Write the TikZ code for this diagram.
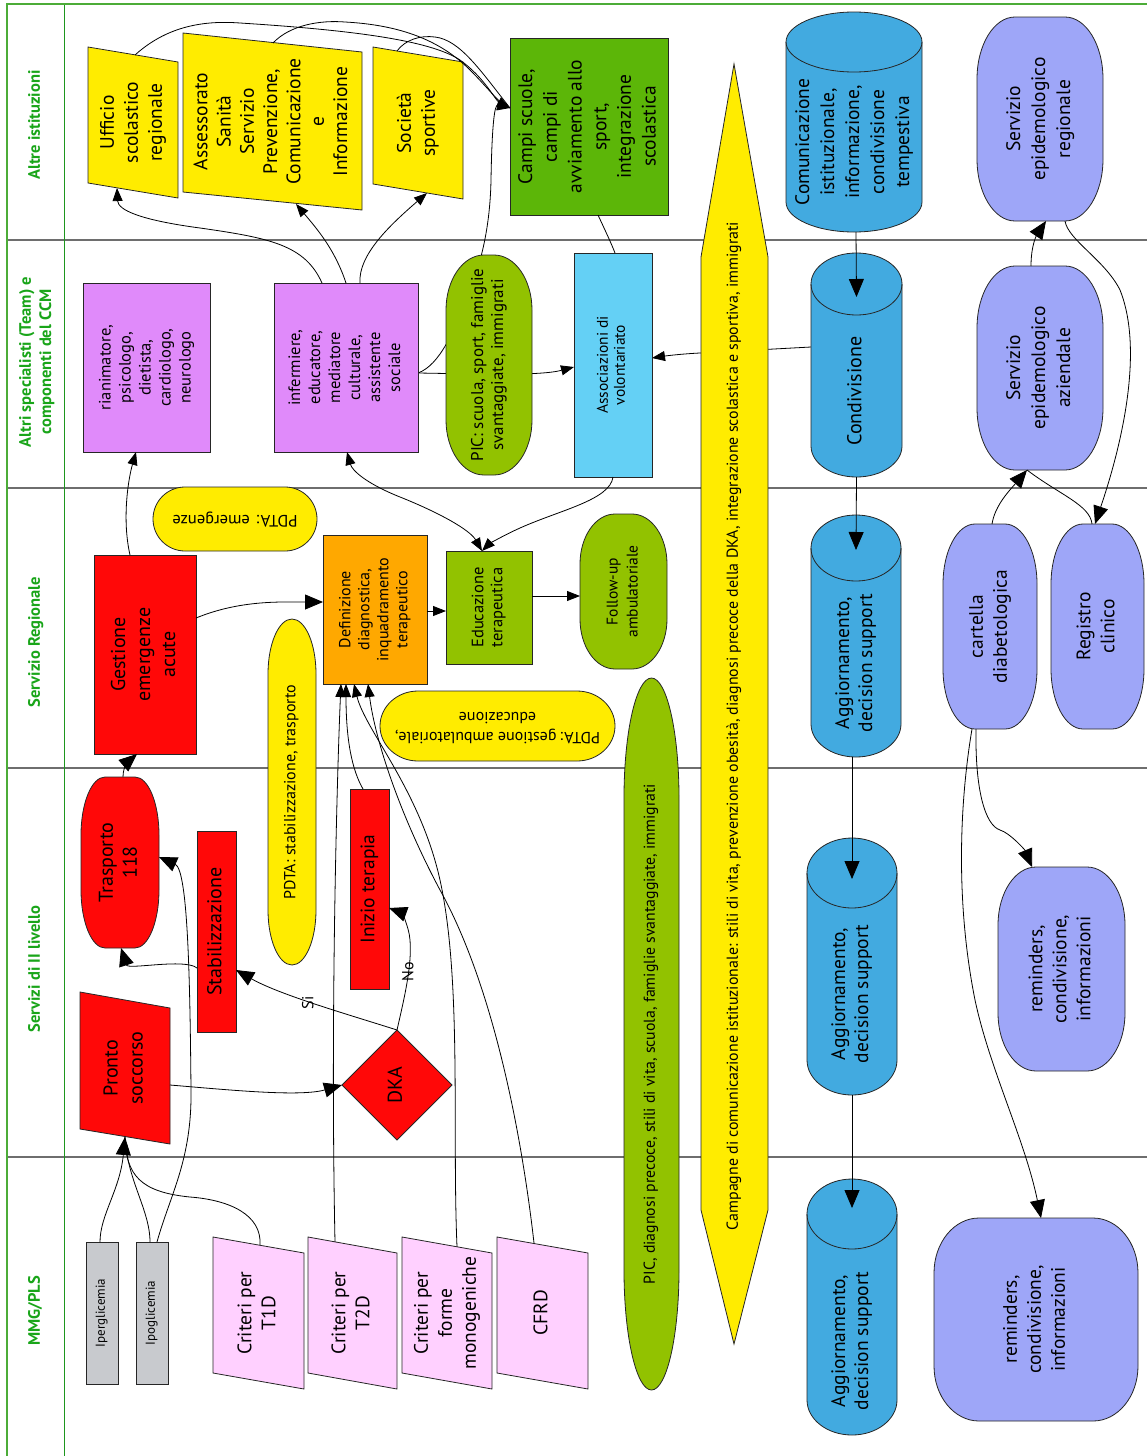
\documentclass[tikz,border=0pt]{standalone}
\usepackage{fontspec}
\setmainfont{PT Sans}
\usepackage{graphicx}
\usetikzlibrary{arrows.meta,calc}
\pgfdeclarelayer{bg}\pgfdeclarelayer{shp}\pgfsetlayers{bg,shp,main}
\definecolor{cyel}{RGB}{255,236,0}
\definecolor{cred}{RGB}{255,8,8}
\definecolor{cora}{RGB}{255,168,0}
\definecolor{cpur}{RGB}{224,138,250}
\definecolor{coli}{RGB}{146,194,0}
\definecolor{cdgr}{RGB}{92,182,8}
\definecolor{clbl}{RGB}{100,208,245}
\definecolor{ccyl}{RGB}{66,170,224}
\definecolor{clav}{RGB}{158,166,248}
\definecolor{cpin}{RGB}{255,208,255}
\definecolor{cgry}{RGB}{200,202,206}
\definecolor{clane}{RGB}{25,165,25}
\definecolor{cbord}{RGB}{76,172,56}
\definecolor{ccol}{RGB}{30,150,30}
\definecolor{csep}{RGB}{110,110,110}
\newcommand\rtx[3]{\rotatebox{90}{\fontsize{#1}{#2}\selectfont\begin{tabular}{@{}c@{}}#3\end{tabular}}}
\newcommand\utx[3]{\rotatebox{180}{\fontsize{#1}{#2}\selectfont\begin{tabular}{@{}c@{}}#3\end{tabular}}}
\newcommand\lanetx[1]{\rotatebox{90}{\color{clane}\bfseries\fontsize{16.5}{20}\selectfont\begin{tabular}{@{}c@{}}#1\end{tabular}}}
\newcommand\mknode[6]{\node[tn,minimum width={#4-#2},minimum height={#5-#3}] (#1) at ({(#2+#4)/2},{(#3+#5)/2}) {#6};}
\newcommand\parash[7]{\filldraw[sh,fill=#1] (#2,#4) -- (#3,#5) -- (#3,#7) -- (#2,#6) -- cycle;}
\newcommand\rectsh[5]{\filldraw[sh,fill=#1] (#2,#3) rectangle (#4,#5);}
\newcommand\ersh[7]{%
\pgfmathsetmacro\qa{0.4477*#6}\pgfmathsetmacro\qb{0.4477*#7}%
\filldraw[sh,fill=#1] (#2+#6,#3) -- (#4-#6,#3) .. controls (#4-\qa,#3) and (#4,#3+\qb) .. (#4,#3+#7) -- (#4,#5-#7) .. controls (#4,#5-\qb) and (#4-\qa,#5) .. (#4-#6,#5) -- (#2+#6,#5) .. controls (#2+\qa,#5) and (#2,#5-\qb) .. (#2,#5-#7) -- (#2,#3+#7) .. controls (#2,#3+\qb) and (#2+\qa,#3) .. cycle;}
\newcommand\cylsh[6]{%
\pgfmathsetmacro\ccx{(#2+#4)/2}\pgfmathsetmacro\crx{(#4-#2)/2}%
\pgfmathsetmacro\ckx{0.5523*\crx}\pgfmathsetmacro\cky{0.5523*#6}%
\pgfmathsetmacro\cya{#3+#6}\pgfmathsetmacro\cyb{#5-#6}\pgfmathsetmacro\cyc{#3+2*#6}%
\filldraw[sh,fill=#1] (#2,\cya) -- (#2,\cyb) .. controls (#2,\cyb+\cky) and (\ccx-\ckx,#5) .. (\ccx,#5) .. controls (\ccx+\ckx,#5) and (#4,\cyb+\cky) .. (#4,\cyb) -- (#4,\cya) .. controls (#4,\cya-\cky) and (\ccx+\ckx,#3) .. (\ccx,#3) .. controls (\ccx-\ckx,#3) and (#2,\cya-\cky) .. cycle;
\draw[sh] (#2,\cya) .. controls (#2,\cya+\cky) and (\ccx-\ckx,\cyc) .. (\ccx,\cyc) .. controls (\ccx+\ckx,\cyc) and (#4,\cya+\cky) .. (#4,\cya);}
\tikzset{
 tn/.style={inner sep=0pt,outer sep=0pt,rectangle},
 sh/.style={draw=black!85,line width=0.8pt},
 conn/.style={draw=black,line width=0.8pt},
 arrS/.style={conn,-{Triangle[length=13pt,width=10pt]}},
 arrB/.style={conn,-{Triangle[length=18pt,width=15pt]}},
 arrSS/.style={conn,{Triangle[length=13pt,width=10pt]}-{Triangle[length=13pt,width=10pt]}},
 lbl/.style={fill=white,inner sep=1.5pt}
}
\begin{document}
\begin{tikzpicture}[x=1pt,y=-1pt]
\useasboundingbox (0,0) rectangle (1147,1456);
% ---------- text nodes ----------
\node[tn] (l1) at (36,125) {\lanetx{Altre istituzioni}};
\node[tn] (l2) at (37,362) {\lanetx{Altri specialisti (Team) e\\componenti del CCM}};
\node[tn] (l3) at (36,642) {\lanetx{Servizio Regionale}};
\node[tn] (l4) at (36,969) {\lanetx{Servizi di II livello}};
\node[tn] (l5) at (36,1311) {\lanetx{MMG/PLS}};
\mknode{uff}{88}{47}{178}{198}{\rtx{19.5}{24}{Ufficio\\scolastico\\regionale}}
\mknode{ass}{183}{33}{362}{210}{\rtx{19.5}{23.3}{Assessorato\\Sanità\\Servizio\\Prevenzione,\\Comunicazione\\e\\Informazione}}
\mknode{soc}{373}{47}{463}{199}{\rtx{19.5}{24}{Società\\sportive}}
\mknode{campi}{510}{38}{668}{215}{\rtx{19.5}{24.7}{Campi scuole,\\campi di\\avviamento allo\\sport,\\integrazione\\scolastica}}
\mknode{com}{786}{52}{922}{232}{\rtx{19.5}{25}{Comunicazione\\istituzionale,\\informazione,\\condivisione\\tempestiva}}
\mknode{serreg}{977}{17}{1103}{221}{\rtx{19.5}{25}{Servizio\\epidemologico\\regionale}}
\mknode{rian}{83}{283}{210}{452}{\rtx{16.5}{20}{rianimatore,\\psicologo,\\dietista,\\cardiologo,\\neurologo}}
\mknode{inf}{274}{283}{418}{452}{\rtx{16.5}{20}{infermiere,\\educatore,\\mediatore\\culturale,\\assistente\\sociale}}
\mknode{picsc}{446}{255}{532}{475}{\rtx{17}{20}{PIC: scuola, sport, famiglie\\svantaggiate, immigrati}}
\mknode{assoc}{574}{253}{652}{477}{\rtx{15.5}{17}{Associazioni di\\volontariato}}
\mknode{cond}{811}{305}{902}{477}{\rtx{20}{24}{Condivisione}}
\mknode{seraz}{977}{266}{1103}{470}{\rtx{19.5}{25}{Servizio\\epidemologico\\aziendale}}
\mknode{pdtaem}{153}{487}{317}{551}{\utx{16.5}{18}{PDTA: \,emergenze}}
\mknode{gest}{94}{555}{196}{754}{\rtx{20}{25}{Gestione\\emergenze\\acute}}
\mknode{defi}{323}{535}{427}{684}{\rtx{16}{19}{Definizione\\diagnostica,\\inquadramento\\terapeutico}}
\mknode{educ}{446}{551}{532}{664}{\rtx{16.5}{19}{Educazione\\terapeutica}}
\mknode{follow}{580}{514}{667}{669}{\rtx{15.5}{20}{Follow-up\\ambulatoriale}}
\mknode{pdtaamb}{380}{691}{615}{761}{\utx{16}{20}{PDTA: gestione ambulatoriale,\\educazione}}
\mknode{pdtastab}{268}{619}{316}{965}{\rtx{16}{17}{PDTA: stabilizzazione, trasporto}}
\mknode{piclong}{624}{678}{679}{1390}{\rtx{15.8}{17}{PIC, diagnosi precoce, stili di vita, scuola, famiglie svantaggiate, immigrati}}
\mknode{camp}{701}{218}{768}{1234}{\rtx{15.9}{17}{Campagne di comunicazione istituzionale: stili di vita, prevenzione obesità, diagnosi precoce della DKA, integrazione scolastica e sportiva, immigrati}}
\mknode{agg1}{811}{569}{901}{757}{\rtx{19.5}{23}{Aggiornamento,\\decision support}}
\mknode{cart}{943}{524}{1037}{729}{\rtx{19.5}{24}{cartella\\diabetologica}}
\mknode{reg}{1051}{524}{1144}{729}{\rtx{19.5}{24}{Registro\\clinico}}
\mknode{tras}{81}{777}{159}{948}{\rtx{20}{24}{Trasporto\\118}}
\mknode{stab}{197}{831}{236}{1032}{\rtx{20}{24}{Stabilizzazione}}
\mknode{ps}{80}{992}{170}{1144}{\rtx{20}{25}{Pronto\\soccorso}}
\mknode{dka}{342}{1030}{452}{1140}{\rtx{20}{24}{DKA}}
\mknode{iniz}{350}{789}{389}{989}{\rtx{19.5}{24}{Inizio terapia}}
\mknode{agg2}{807}{893}{897}{1095}{\rtx{19.5}{23}{Aggiornamento,\\decision support}}
\mknode{rem1}{998}{867}{1125}{1071}{\rtx{19.5}{24}{reminders,\\condivisione,\\informazioni}}
\mknode{iper}{86}{1242}{118}{1384}{\rtx{13}{14}{Iperglicemia}}
\mknode{ipo}{136}{1242}{168}{1384}{\rtx{13}{14}{Ipoglicemia}}
\mknode{t1d}{213}{1237}{304}{1389}{\rtx{19.5}{24}{Criteri per\\T1D}}
\mknode{t2d}{308}{1237}{397}{1389}{\rtx{19.5}{24}{Criteri per\\T2D}}
\mknode{mono}{402}{1237}{492}{1389}{\rtx{19.5}{24}{Criteri per\\forme\\monogeniche}}
\mknode{cfrd}{497}{1237}{588}{1389}{\rtx{19.5}{24}{CFRD}}
\mknode{agg3}{807}{1247}{897}{1435}{\rtx{19.5}{23}{Aggiornamento,\\decision support}}
\mknode{rem2}{934}{1218}{1138}{1421}{\rtx{19.5}{24}{reminders,\\condivisione,\\informazioni}}
\node[lbl] (lsi) at (310,1003) {\rtx{16}{17}{Si}};
\node[lbl] (lno) at (410,972) {\rtx{16}{17}{No}};
% ---------- shapes ----------
\begin{pgfonlayer}{shp}
\parash{cyel}{88}{178}{47}{62}{183}{198}
\parash{cyel}{183}{362}{33}{52}{192}{210}
\parash{cyel}{373}{463}{47}{62}{184}{199}
\rectsh{cdgr}{510}{38}{668}{215}
\cylsh{ccyl}{786}{12}{922}{232}{30}
\ersh{clav}{977}{17}{1103}{221}{38}{62}
\rectsh{cpur}{83}{283}{210}{452}
\rectsh{cpur}{274}{283}{418}{452}
\ersh{coli}{446}{255}{532}{475}{38}{55}
\rectsh{clbl}{574}{253}{652}{477}
\cylsh{ccyl}{811}{253}{902}{477}{31}
\ersh{clav}{977}{266}{1103}{470}{38}{62}
\ersh{cyel}{153}{487}{317}{551}{32}{32}
\rectsh{cred}{94}{555}{196}{754}
\rectsh{cora}{323}{535}{427}{684}
\rectsh{coli}{446}{551}{532}{664}
\ersh{coli}{580}{514}{667}{669}{35}{50}
\ersh{cyel}{380}{691}{615}{761}{38}{35}
\ersh{cyel}{268}{619}{316}{965}{24}{55}
\ersh{coli}{624}{678}{679}{1390}{27.5}{120}
\filldraw[sh,fill=cyel] (734,64) -- (768,257) -- (768,1210) -- (734,1344) -- (701,1210) -- (701,257) -- cycle;
\cylsh{ccyl}{811}{515}{901}{757}{33}
\ersh{clav}{943}{524}{1037}{729}{32}{60}
\ersh{clav}{1051}{524}{1144}{729}{32}{60}
\ersh{cred}{81}{777}{159}{948}{24}{58}
\rectsh{cred}{197}{831}{236}{1032}
\parash{cred}{80}{170}{992}{1008}{1129}{1144}
\filldraw[sh,fill=cred] (dka.north) -- (dka.east) -- (dka.south) -- (dka.west) -- cycle;
\rectsh{cred}{350}{789}{389}{989}
\cylsh{ccyl}{807}{838}{897}{1095}{35}
\ersh{clav}{998}{867}{1125}{1071}{38}{58}
\rectsh{cgry}{86}{1242}{118}{1384}
\rectsh{cgry}{136}{1242}{168}{1384}
\parash{cpin}{213}{304}{1237}{1253}{1373}{1389}
\parash{cpin}{308}{397}{1237}{1253}{1373}{1389}
\parash{cpin}{402}{492}{1237}{1253}{1373}{1389}
\parash{cpin}{497}{588}{1237}{1253}{1373}{1389}
\cylsh{ccyl}{807}{1179}{897}{1435}{35}
\ersh{clav}{934}{1218}{1138}{1421}{45}{55}
\end{pgfonlayer}
% ---------- background: lanes and hidden connectors ----------
\begin{pgfonlayer}{bg}
\fill[white] (0,0) rectangle (1147,1456);
\foreach \yy in {240,488,768,1157} \draw[csep,line width=1.3pt] (7,\yy) -- (1147,\yy);
\draw[ccol,line width=1pt] (64,4) -- (64,1456);
\draw[cbord,line width=2.6pt] (7,1456) -- (7,4) -- (1147,4);
\draw[arrS] ($(inf.east)+(0,5.5)$) .. controls (480,374) and (540,376) .. ($(assoc.west)+(0,2)$);
\draw[arrS] ($(inf.east)+(0,5.5)$) .. controls (440,365) and (455,330) .. (470,290) .. controls (480,265) and (490,230) .. (491,180) .. controls (492,120) and (495,105) .. ($(campi.west)+(0,-18.5)$);
\draw[arrS] ($(cond.west)+(0,-44)$) -- (700,353) .. controls (680,354) and (665,356) .. ($(assoc.east)+(0,-7)$);
\end{pgfonlayer}
% ---------- visible connectors ----------
\draw[arrS] ($(gest.north)+(-15,0)$) .. controls (122,520) and (128,480) .. ($(rian.south)+(-10.5,0)$);
\draw[arrB] ($(tras.north)+(3,0)$) .. controls (123,765) and (130,760) .. ($(gest.south)+(-8,0)$);
\draw[arrB] ($(stab.west)+(0,36.5)$) .. controls (185,958) and (128,970) .. ($(tras.south)+(1,0)$);
\draw[arrB] (dka.north) .. controls (350,1015) and (280,995) .. ($(stab.east)+(0,38.5)$);
\draw[arrB] (dka.north) .. controls (405,995) and (412,965) .. (410,940) .. controls (409,925) and (400,912) .. ($(iniz.east)+(0,19)$);
\draw[arrB] ($(ps.east)+(0,17)$) .. controls (230,1090) and (300,1097) .. (dka.west);
\draw[arrB] ($(ipo.north)+(5,0)$) .. controls (170,1195) and (192,1160) .. (191,1090) .. controls (190,980) and (188,870) .. ($(tras.east)+(0,-5.5)$);
\draw[arrB] ($(iper.north)+(-2,0)$) .. controls (100,1215) and (120,1190) .. ($(ps.south)+(0,-7)$);
\draw[conn] ($(ipo.north)+(-2,0)$) .. controls (150,1210) and (127,1180) .. ($(ps.south)+(0,-7)$);
\draw[conn] ($(t1d.north)+(1.5,8)$) .. controls (262,1215) and (230,1200) .. (190,1197) .. controls (140,1192) and (126,1175) .. ($(ps.south)+(0,-7)$);
\draw[arrS] ($(t2d.north)+(-17.5,5)$) .. controls (330,1000) and (338,750) .. ($(defi.south)+(-34,0)$);
\draw[arrS] ($(iniz.north)+(-6.5,0)$) .. controls (352,770) and (346,740) .. ($(defi.south)+(-29,0)$);
\draw[arrS] ($(mono.north)+(10,9.8)$) .. controls (452,1130) and (462,980) .. (440,880) .. controls (420,790) and (365,730) .. ($(defi.south)+(-21,0)$);
\draw[arrS] ($(cfrd.north)+(-8.5,6)$) .. controls (520,1120) and (490,980) .. (440,890) .. controls (400,815) and (375,740) .. ($(defi.south)+(-7,0)$);
\draw[arrB] ($(gest.east)+(0,-36.5)$) .. controls (240,600) and (280,602) .. ($(defi.west)+(0,-7.5)$);
\draw[arrS] ($(defi.east)+(0,1.5)$) -- ($(educ.west)+(0,3.5)$);
\draw[arrS] ($(educ.east)+(0,-11.5)$) -- ($(follow.west)+(0,4.5)$);
\draw[arrS] (assoc.south) .. controls (610,500) and (560,510) .. (520,528) .. controls (500,537) and (488,545) .. ($(educ.north)+(-7,0)$);
\draw[arrSS] ($(inf.south)+(1,0)$) .. controls (352,470) and (365,483) .. (400,497) .. controls (440,513) and (470,530) .. ($(educ.north)+(-7,0)$);
\draw[arrS] ($(inf.north)+(-24,0)$) .. controls (305,245) and (270,238) .. (200,228) .. controls (140,220) and (118,210) .. ($(uff.south)+(-16,-10)$);
\draw[arrS] (inf.north) .. controls (335,250) and (318,230) .. ($(ass.south)+(23.5,-6)$);
\draw[arrS] ($(inf.north)+(14,0)$) .. controls (358,255) and (390,225) .. ($(soc.south)+(9,-6)$);
\draw[arrS] ($(uff.north)+(2,8)$) .. controls (165,28) and (200,20) .. (240,23) .. controls (350,30) and (430,40) .. (460,60) .. controls (485,78) and (495,100) .. ($(campi.west)+(0,-18.5)$);
\draw[conn] ($(ass.north)+(0.5,10)$) .. controls (290,25) and (320,20) .. (345,22) .. controls (400,25) and (440,40) .. (470,70) .. controls (490,90) and (500,105) .. ($(campi.west)+(0,-18.5)$);
\draw[conn] ($(soc.north)+(-21,4)$) .. controls (405,40) and (420,35) .. (435,37) .. controls (460,40) and (480,70) .. ($(campi.west)+(0,-18.5)$);
\draw[conn] ($(campi.south)+(9,0)$) .. controls (605,230) and (612,245) .. ($(assoc.north)+(2,0)$);
\draw[arrB] ($(com.south)+(2,0)$) -- ($(cond.north)+(0,-8)$);
\draw[arrB] (cond.south) -- ($(agg1.north)+(0,-19)$);
\draw[arrB] ($(agg1.south)+(-4,0)$) -- ($(agg2.north)+(0,-14)$);
\draw[arrB] (agg2.south) -- ($(agg3.north)+(0,-39)$);
\draw[arrB] ($(seraz.north)+(-9,0)$) .. controls (1031,240) and (1040,230) .. ($(serreg.south)+(6,0)$);
\draw[arrB] ($(serreg.south)+(25,0)$) .. controls (1068,240) and (1105,260) .. (1120,290) .. controls (1140,340) and (1130,420) .. ($(reg.north)+(-2.5,0)$);
\draw[arrB] ($(cart.north)+(2,0)$) .. controls (995,505) and (1010,490) .. ($(seraz.south)+(-13,0)$);
\draw[conn] ($(reg.north)+(-5.5,0)$) .. controls (1090,505) and (1060,495) .. ($(seraz.south)+(-13,0)$);
\draw[arrB] ($(cart.south)+(-14,0)$) .. controls (975,790) and (985,825) .. (1000,830) .. controls (1010,833) and (1025,850) .. ($(rem1.north)+(-29.5,0)$);
\draw[arrB] ($(cart.south)+(-18,0)$) .. controls (960,800) and (955,900) .. (975,1000) .. controls (990,1070) and (1025,1140) .. ($(rem2.north)+(5,0)$);
\end{tikzpicture}
\end{document}
